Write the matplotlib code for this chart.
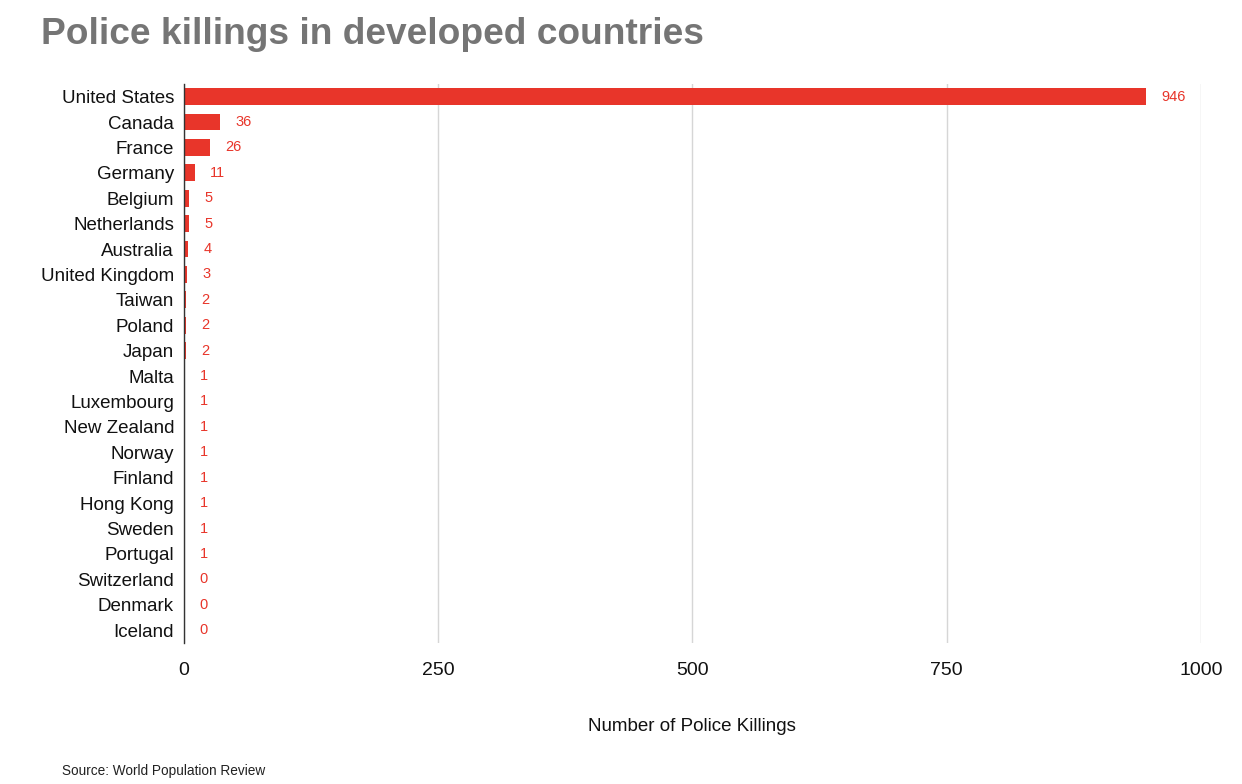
import matplotlib
matplotlib.use("Agg")
import matplotlib.pyplot as plt

countries = ["United States", "Canada", "France", "Germany", "Belgium", "Netherlands",
             "Australia", "United Kingdom", "Taiwan", "Poland", "Japan", "Malta",
             "Luxembourg", "New Zealand", "Norway", "Finland", "Hong Kong", "Sweden",
             "Portugal", "Switzerland", "Denmark", "Iceland"]
killings = [946, 36, 26, 11, 5, 5, 4, 3, 2, 2, 2, 1, 1, 1, 1, 1, 1, 1, 1, 0, 0, 0]
xticks = [0, 250, 500, 750, 1000]

plt.rcParams['font.family'] = ['Liberation Sans', 'DejaVu Sans']

fig = plt.figure(figsize=(12.42, 7.84), dpi=100)
ax = fig.add_axes([0.148, 0.180, 0.819, 0.713])

bar_color = "#E8352A"
ypos = list(range(len(countries)))
ax.barh(ypos, killings, height=0.66, color=bar_color, zorder=3)
for y, v in zip(ypos, killings):
    ax.annotate(str(v), xy=(v, y), xytext=(11, 0), textcoords="offset points",
                va="center", ha="left", fontsize=10.5, color=bar_color)

ax.set_ylim(len(countries) - 0.5, -0.5)
ax.set_yticks(ypos)
ax.set_yticklabels(countries, fontsize=13.5, color="#111111")
ax.set_xlim(0, 1000)
ax.set_xticks(xticks)
ax.set_xticklabels([str(t) for t in xticks], fontsize=14, color="#111111")
ax.tick_params(axis="both", length=0)
ax.tick_params(axis="x", pad=14)
ax.tick_params(axis="y", pad=7)
ax.grid(axis="x", color="#d6d6d6", linewidth=1, zorder=0)
for s in ["top", "right", "bottom"]:
    ax.spines[s].set_visible(False)
ax.spines["left"].set_color("#333333")
ax.spines["left"].set_linewidth(1)
ax.spines["left"].set_zorder(4)

ax.set_xlabel("Number of Police Killings", fontsize=13.5, color="#111111", labelpad=28)

fig.text(0.033, 0.956, "Police killings in developed countries", fontsize=26.7,
         fontweight="bold", color="#757575", ha="left", va="center")
fig.text(0.05, 0.016, "Source: World Population Review", fontsize=9.8,
         color="#222222", ha="left", va="center")

fig.savefig("out.png", dpi=100)
